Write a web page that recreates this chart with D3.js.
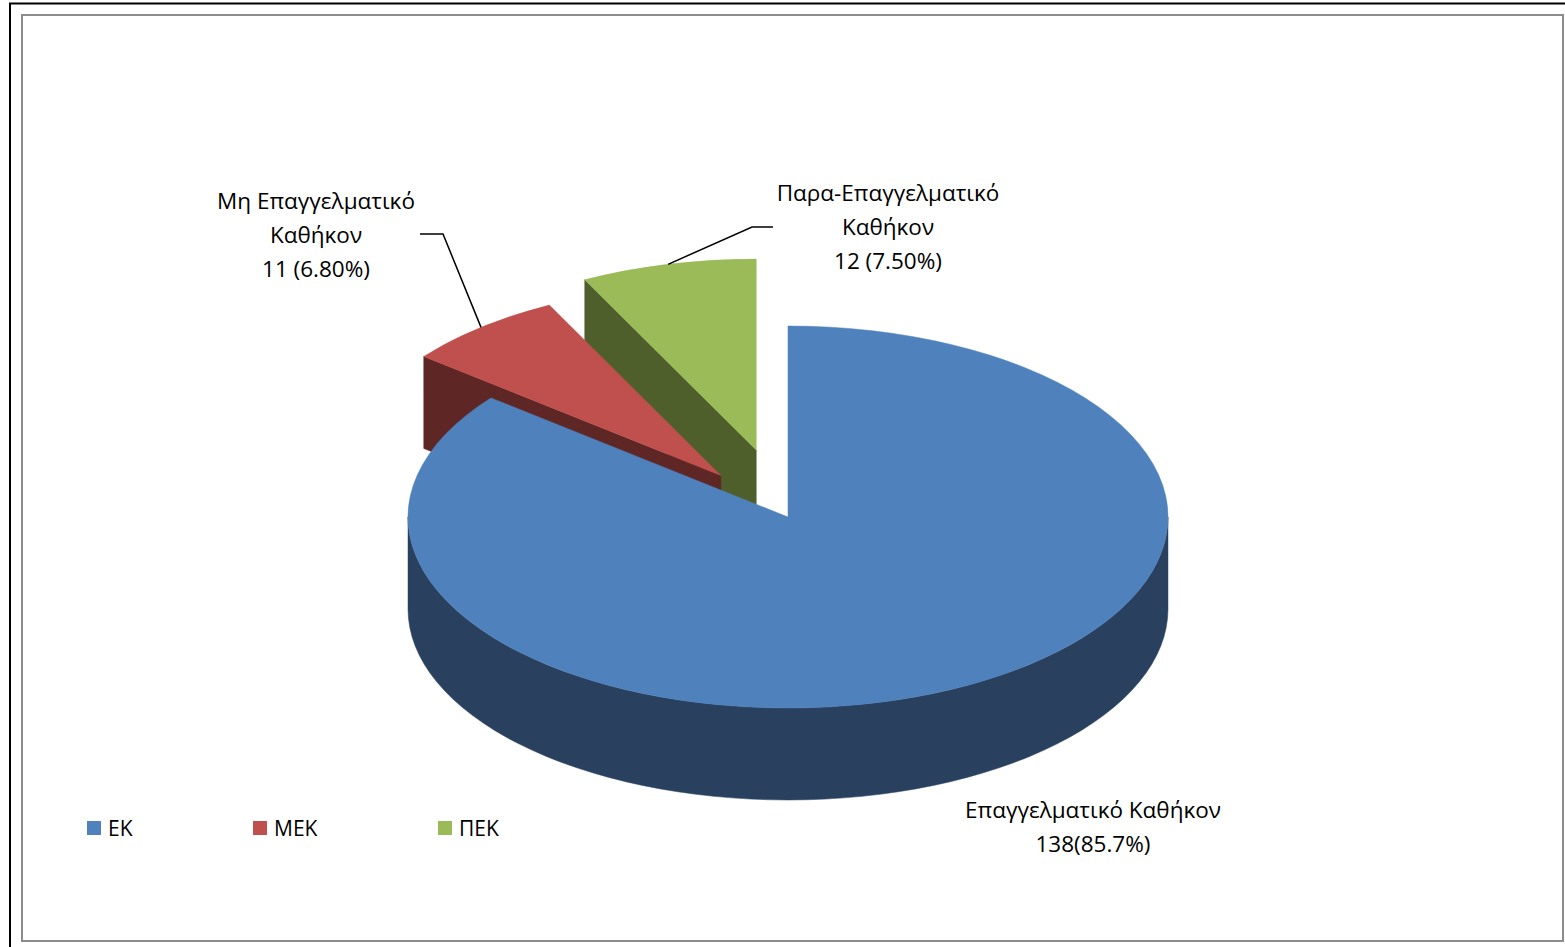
<!DOCTYPE html>
<html>
<head>
<meta charset="utf-8">
<script src="https://cdn.jsdelivr.net/npm/d3@7"></script>
<style>
  html, body { margin: 0; padding: 0; background: #fff; }
  svg { display: block; }
  text { font-family: "Open Sans", "Noto Sans", sans-serif; fill: #000; }
</style>
</head>
<body>
<svg id="chart" width="1565" height="947"></svg>
<script>
// Data
const categories = ["ΕΚ", "ΜΕΚ", "ΠΕΚ"];
const values = [138, 11, 12];
const labelLines = [
  ["Επαγγελματικό Καθήκον", "138(85.7%)"],
  ["Μη Επαγγελματικό", "Καθήκον", "11 (6.80%)"],
  ["Παρα-Επαγγελματικό", "Καθήκον", "12 (7.50%)"]
];

// Styling
const topColor = d3.scaleOrdinal(categories, ["#4F81BD", "#C0504D", "#9BBB59"]);
const sideColor = d3.scaleOrdinal(categories, ["#29405F", "#5E2725", "#4E5F2C"]);
const explodeBy = { "ΕΚ": 0, "ΜΕΚ": 0.28, "ΠΕΚ": 0.36 };

const svg = d3.select("#chart");
const W = 1565, H = 947;

// Frame
svg.append("line").attr("x1", 9).attr("x2", W).attr("y1", 3.5).attr("y2", 3.5)
  .attr("stroke", "#000").attr("stroke-width", 2);
svg.append("line").attr("x1", 10).attr("x2", 10).attr("y1", 3).attr("y2", H)
  .attr("stroke", "#000").attr("stroke-width", 2);
svg.append("rect").attr("x", 22).attr("y", 15).attr("width", 1541).attr("height", 926)
  .attr("fill", "#fff").attr("stroke", "#8c8c8c").attr("stroke-width", 2);

// 3D pie geometry (tilted ellipse + extruded wall)
const cx = 788, cy = 517, rx = 380, ry = 191, depth = 92;

const pie = d3.pie().sort(null).value(d => d.value).startAngle(0).endAngle(2 * Math.PI);
const arcs = pie(categories.map((c, i) => ({ key: c, value: values[i], lines: labelLines[i] })));

arcs.forEach(a => {
  const mid = (a.startAngle + a.endAngle) / 2;
  const e = explodeBy[a.data.key];
  a.mid = mid;
  a.off = { x: e * rx * Math.sin(mid), y: -e * ry * Math.cos(mid) };
});

function pt(a, theta, r, z) {
  return [cx + a.off.x + rx * r * Math.sin(theta),
          cy + a.off.y - ry * r * Math.cos(theta) + z * depth];
}
const f = p => p[0].toFixed(2) + "," + p[1].toFixed(2);

function topPath(a) {
  const c = pt(a, 0, 0, 0), p0 = pt(a, a.startAngle, 1, 0), p1 = pt(a, a.endAngle, 1, 0);
  const large = (a.endAngle - a.startAngle) > Math.PI ? 1 : 0;
  return `M${f(c)}L${f(p0)}A${rx},${ry} 0 ${large} 1 ${f(p1)}Z`;
}
function wallPath(a, b0, b1) {
  const t0 = pt(a, b0, 1, 0), t1 = pt(a, b1, 1, 0), d1 = pt(a, b1, 1, 1), d0 = pt(a, b0, 1, 1);
  const large = (b1 - b0) > Math.PI ? 1 : 0;
  return `M${f(t0)}A${rx},${ry} 0 ${large} 1 ${f(t1)}L${f(d1)}A${rx},${ry} 0 ${large} 0 ${f(d0)}Z`;
}
function cutPath(a, theta) {
  const c0 = pt(a, 0, 0, 0), r0 = pt(a, theta, 1, 0), r1 = pt(a, theta, 1, 1), c1 = pt(a, 0, 0, 1);
  return `M${f(c0)}L${f(r0)}L${f(r1)}L${f(c1)}Z`;
}

// Back-to-front drawing order
const order = arcs.slice().sort((p, q) => Math.cos(q.mid) - Math.cos(p.mid));
const gPie = svg.append("g");
order.forEach(a => {
  const g = gPie.append("g");
  const dark = sideColor(a.data.key);
  if (Math.sin(a.startAngle) < -1e-6)
    g.append("path").attr("d", cutPath(a, a.startAngle)).attr("fill", dark).attr("stroke", dark).attr("stroke-width", 0.5);
  if (Math.sin(a.endAngle) > 1e-6)
    g.append("path").attr("d", cutPath(a, a.endAngle)).attr("fill", dark).attr("stroke", dark).attr("stroke-width", 0.5);
  const b0 = Math.max(a.startAngle, Math.PI / 2), b1 = Math.min(a.endAngle, 3 * Math.PI / 2);
  if (b1 > b0)
    g.append("path").attr("d", wallPath(a, b0, b1)).attr("fill", dark).attr("stroke", dark).attr("stroke-width", 0.5);
  g.append("path").attr("d", topPath(a)).attr("fill", topColor(a.data.key))
    .attr("stroke", topColor(a.data.key)).attr("stroke-width", 0.5);
});

// Data labels
const fontSize = 22.5, lineGap = 34;
const labelPos = {
  "ΕΚ":  { x: 1093, y: 818 },
  "ΜΕΚ": { x: 316, y: 209 },
  "ΠΕΚ": { x: 888, y: 201 }
};
const leaderStart = {
  "ΜΕΚ": [[420, 234], [443, 234]],
  "ΠΕΚ": [[773, 227], [752, 227]]
};
arcs.forEach(a => {
  const lp = labelPos[a.data.key];
  const t = svg.append("text").attr("text-anchor", "middle").attr("font-size", fontSize);
  a.data.lines.forEach((s, i) => {
    t.append("tspan").attr("x", lp.x).attr("y", lp.y + i * lineGap).text(s);
  });
  const ls = leaderStart[a.data.key];
  if (ls) {
    const end = pt(a, a.mid, 1, 0);
    svg.append("path").attr("d", d3.line()([...ls, end]))
      .attr("fill", "none").attr("stroke", "#000").attr("stroke-width", 1.5);
  }
});

// Legend
const legendX = { "ΕΚ": 87, "ΜΕΚ": 253, "ΠΕΚ": 438 };
const legend = svg.append("g");
categories.forEach(c => {
  legend.append("rect").attr("x", legendX[c]).attr("y", 821).attr("width", 14).attr("height", 14)
    .attr("fill", topColor(c));
  legend.append("text").attr("x", legendX[c] + 21).attr("y", 836).attr("font-size", 21).text(c);
});
</script>
</body>
</html>
